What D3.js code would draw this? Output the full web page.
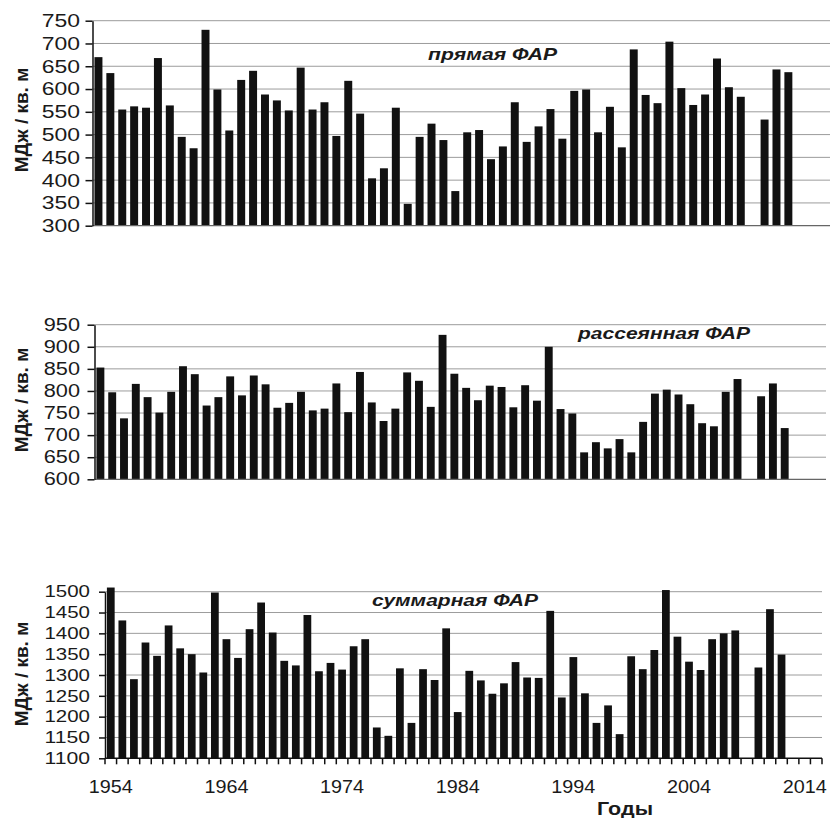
<!DOCTYPE html>
<html>
<head>
<meta charset="utf-8">
<script src="https://cdn.jsdelivr.net/npm/d3@7"></script>
<style>
  body { margin: 0; background: #fff; }
  svg { display: block; }
  text { font-family: "Liberation Sans", Arial, sans-serif; }
</style>
</head>
<body>
<svg id="chart" width="830" height="818"></svg>
<script>
// years on the category axis: 1954 ... 2015, bars up to 2012, no data in 2009
const firstYear = 1954, lastYear = 2015;

// прямая ФАР, 1954..2012
const direct = [670, 635, 555, 562, 559, 668, 564, 495, 470, 730,
                599, 509, 620, 640, 588, 575, 553, 647, 555, 571,
                497, 618, 546, 404, 426, 559, 348, 495, 524, 488,
                376, 505, 510, 446, 474, 571, 484, 518, 556, 491,
                596, 599, 505, 561, 472, 687, 587, 569, 704, 602,
                565, 588, 667, 604, 583, null, 533, 643, 637];

// рассеянная ФАР
const diffuse = [853, 797, 738, 816, 786, 751, 798, 856, 838, 767,
                 786, 833, 790, 835, 815, 762, 773, 798, 756, 760,
                 817, 752, 843, 774, 732, 760, 842, 823, 764, 927,
                 839, 807, 779, 812, 809, 763, 813, 778, 900, 759,
                 749, 661, 684, 670, 691, 661, 730, 794, 803, 792,
                 770, 727, 720, 798, 827, null, 788, 817, 716];

// суммарная ФАР
const total = [1510, 1431, 1290, 1378, 1346, 1419, 1364, 1350, 1306, 1498,
               1386, 1341, 1410, 1474, 1402, 1334, 1323, 1444, 1309, 1329,
               1313, 1369, 1386, 1174, 1154, 1316, 1185, 1314, 1288, 1412,
               1211, 1310, 1287, 1255, 1280, 1331, 1294, 1293, 1454, 1246,
               1343, 1256, 1185, 1227, 1158, 1345, 1314, 1360, 1504, 1392,
               1332, 1312, 1386, 1400, 1407, null, 1318, 1458, 1349];

const directTicks = [300, 350, 400, 450, 500, 550, 600, 650, 700, 750];
const diffuseTicks = [600, 650, 700, 750, 800, 850, 900, 950];
const totalTicks = [1100, 1150, 1200, 1250, 1300, 1350, 1400, 1450, 1500];
const xTickLabels = ["1954", "1964", "1974", "1984", "1994", "2004", "2014"];

const panelTitles = ["прямая ФАР", "рассеянная ФАР", "суммарная ФАР"];
const yUnit = "МДж / кв. м";
const xName = "Годы";

const svg = d3.select("#chart");
const cats = d3.range(firstYear, lastYear + 1);

// layout of the three stacked charts
const panels = [
  {values: direct, ticks: directTicks, title: panelTitles[0],
   x0: 92.5, x1: 830, top: 20.7, bottom: 225.7,
   tickFont: 18.5, tickGap: 12.5, tickLen: 7,
   titleX: 428, titleY: 60, titleW: 129, titleFont: 17, unitY: 120, xAxis: false},
  {values: diffuse, ticks: diffuseTicks, title: panelTitles[1],
   x0: 94.5, x1: 826, top: 324.7, bottom: 479.3,
   tickFont: 17.5, tickGap: 14.5, tickLen: 7,
   titleX: 578, titleY: 339, titleW: 172, titleFont: 16.5, unitY: 400, xAxis: false},
  {values: total, ticks: totalTicks, title: panelTitles[2],
   x0: 105, x1: 822, top: 591.7, bottom: 758.3,
   tickFont: 16.5, tickGap: 15, tickLen: 6,
   titleX: 372, titleY: 606, titleW: 166, titleFont: 16, unitY: 674, xAxis: true}
];

const fmt = d3.format("d");

function drawPanel(p) {
  const x = d3.scaleBand()
    .domain(cats)
    .range([p.x0, p.x1])
    .paddingInner(0.33)
    .paddingOuter(0.165);
  const y = d3.scaleLinear()
    .domain(d3.extent(p.ticks))
    .range([p.bottom, p.top]);

  const g = svg.append("g");

  // horizontal grid
  g.append("g").selectAll("line")
    .data(p.ticks.slice(1))
    .join("line")
    .attr("x1", p.x0).attr("x2", p.x1)
    .attr("y1", d => y(d)).attr("y2", d => y(d))
    .attr("stroke", "#9c9c9c")
    .attr("stroke-width", 1);

  // bars
  const rows = p.values.map((v, i) => ({year: cats[i], v: v})).filter(d => d.v != null);
  g.append("g").selectAll("rect")
    .data(rows)
    .join("rect")
    .attr("x", d => x(d.year))
    .attr("width", x.bandwidth())
    .attr("y", d => y(d.v))
    .attr("height", d => y(p.ticks[0]) - y(d.v))
    .attr("fill", "#111");

  // baseline / x axis
  const base = y(p.ticks[0]);
  g.append("line")
    .attr("x1", p.x0).attr("x2", p.x1)
    .attr("y1", base).attr("y2", base)
    .attr("stroke", p.xAxis ? "#111" : "#666")
    .attr("stroke-width", p.xAxis ? 1.5 : 1.2);

  if (p.xAxis) {
    const off = (x.step() - x.bandwidth()) / 2;
    const bounds = cats.map(c => x(c) - off).concat([p.x1]);
    g.append("g").selectAll("line")
      .data(bounds)
      .join("line")
      .attr("x1", d => d).attr("x2", d => d)
      .attr("y1", base).attr("y2", base + 6)
      .attr("stroke", "#111")
      .attr("stroke-width", 1.5);
    g.append("g").selectAll("text")
      .data(xTickLabels)
      .join("text")
      .attr("x", d => x(+d) + x.bandwidth() / 2)
      .attr("y", 793)
      .attr("text-anchor", "middle")
      .attr("font-size", 18)
      .attr("textLength", 44)
      .attr("lengthAdjust", "spacingAndGlyphs")
      .attr("fill", "#1a1a1a")
      .text(d => d);
  }

  // y axis
  const ya = g.append("g")
    .attr("transform", `translate(${p.x0},0)`)
    .call(d3.axisLeft(y).tickValues(p.ticks).tickFormat(fmt).tickSize(p.tickLen).tickSizeOuter(0));
  ya.select(".domain").attr("stroke", "#111").attr("stroke-width", 1.5);
  ya.selectAll(".tick line").attr("stroke", "#111").attr("stroke-width", 1.5);
  ya.selectAll(".tick text")
    .attr("x", -p.tickGap)
    .attr("font-size", p.tickFont)
    .attr("textLength", d => fmt(d).length * (p.tickFont * 0.69))
    .attr("lengthAdjust", "spacingAndGlyphs")
    .attr("fill", "#1a1a1a");

  // unit label
  g.append("text")
    .attr("transform", `translate(28,${p.unitY}) rotate(-90)`)
    .attr("text-anchor", "middle")
    .attr("font-size", 19)
    .attr("font-weight", "bold")
    .attr("fill", "#1a1a1a")
    .text(yUnit);

  // panel title
  g.append("text")
    .attr("x", p.titleX)
    .attr("y", p.titleY)
    .attr("font-size", p.titleFont)
    .attr("font-weight", "bold")
    .attr("font-style", "italic")
    .attr("textLength", p.titleW)
    .attr("lengthAdjust", "spacingAndGlyphs")
    .attr("fill", "#1a1a1a")
    .text(p.title);
}

panels.forEach(drawPanel);

svg.append("text")
  .attr("x", 625)
  .attr("y", 815)
  .attr("text-anchor", "middle")
  .attr("font-size", 18.5)
  .attr("font-weight", "bold")
  .attr("textLength", 56)
  .attr("lengthAdjust", "spacingAndGlyphs")
  .attr("fill", "#1a1a1a")
  .text(xName);
</script>
</body>
</html>
